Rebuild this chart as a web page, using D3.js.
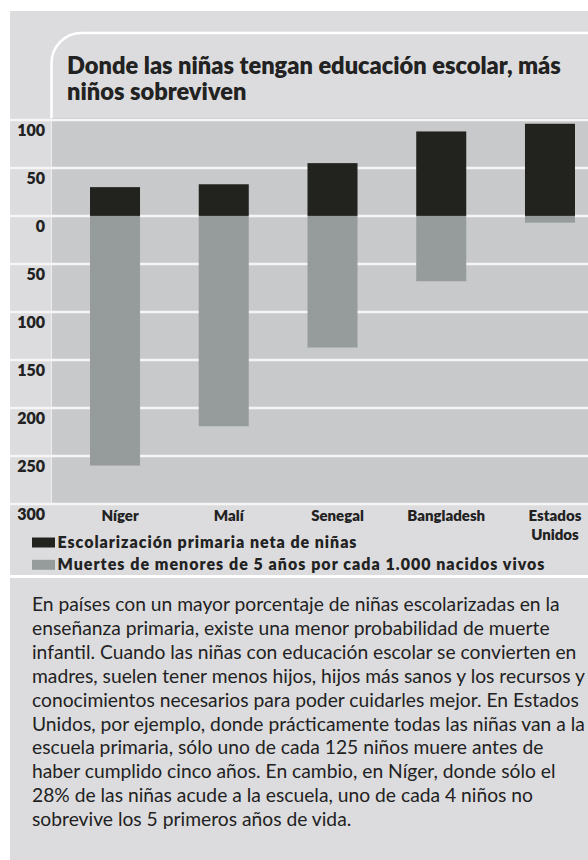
<!DOCTYPE html>
<html>
<head>
<meta charset="utf-8">
<script src="https://cdn.jsdelivr.net/npm/d3@7"></script>
<style>
  body { margin: 0; background: #fff; }
  svg { display: block; font-family: Lato, "Open Sans", sans-serif; }
</style>
</head>
<body>
<div id="chart"></div>
<script>
// Chart data
const countries = ["Níger", "Malí", "Senegal", "Bangladesh", "Estados Unidos"];
const enrolment = [30, 33, 55, 88, 96];
const deaths = [260, 219, 137, 68, 7];
const yTicks = [100, 50, 0, -50, -100, -150, -200, -250, -300];

const titleLines = ["Donde las niñas tengan educación escolar, más", "niños sobreviven"];
const legendLabels = [
  "Escolarización primaria neta de niñas",
  "Muertes de menores de 5 años por cada 1.000 nacidos vivos"
];
const paragraph = [
  "En países con un mayor porcentaje de niñas escolarizadas en la",
  "enseñanza primaria, existe una menor probabilidad de muerte",
  "infantil. Cuando las niñas con educación escolar se convierten en",
  "madres, suelen tener menos hijos, hijos más sanos y los recursos y",
  "conocimientos necesarios para poder cuidarles mejor. En Estados",
  "Unidos, por ejemplo, donde prácticamente todas las niñas van a la",
  "escuela primaria, sólo uno de cada 125 niños muere antes de",
  "haber cumplido cinco años. En cambio, en Níger, donde sólo el",
  "28% de las niñas acude a la escuela, uno de cada 4 niños no",
  "sobrevive los 5 primeros años de vida."
];

const width = 588
const height = 860
const plot = { left: 51, right: 588, top: 118, bottom: 504 }
const textColor = "#222"

const svg = d3.select("#chart")
  .append("svg")
  .attr("width", width)
  .attr("height", height);

// Light grey panel
svg.append("rect")
  .attr("x", 10)
  .attr("y", 11)
  .attr("width", width - 10)
  .attr("height", height - 11)
  .attr("fill", "#dcdcde");

// Scales
const x = d3.scaleBand()
  .domain(countries)
  .range([90, 575])
  .paddingInner(0.54)
  .paddingOuter(0);

const y = d3.scaleLinear()
  .domain([102, -300])
  .range([plot.top, plot.bottom]);

// Plot background
svg.append("rect")
  .attr("x", plot.left)
  .attr("y", plot.top)
  .attr("width", plot.right - plot.left)
  .attr("height", plot.bottom - plot.top)
  .attr("fill", "#c8c9cb");

svg.append("line")
  .attr("x1", plot.left + 0.5)
  .attr("x2", plot.left + 0.5)
  .attr("y1", plot.top)
  .attr("y2", plot.bottom)
  .attr("stroke", "#ececec")
  .attr("stroke-width", 1);

// Rounded title frame
const r = 30
const frame = d3.path();
frame.moveTo(plot.left + 0.5, plot.top);
frame.lineTo(plot.left + 0.5, 33 + r);
frame.arcTo(plot.left + 0.5, 33, plot.left + 0.5 + r, 33, r);
frame.lineTo(width, 33);
svg.append("path")
  .attr("d", frame.toString())
  .attr("fill", "none")
  .attr("stroke", "#fff")
  .attr("stroke-width", 2.5);

// Gridlines across the whole panel
svg.append("g")
  .selectAll("line")
  .data(yTicks)
  .join("line")
  .attr("x1", 10)
  .attr("x2", width)
  .attr("y1", d => y(d))
  .attr("y2", d => y(d))
  .attr("stroke", "#f5f5f5")
  .attr("stroke-width", 2.5);

// Y axis labels (absolute values, sitting under each gridline)
const yAxis = svg.append("g")
  .attr("transform", "translate(45,0)")
  .call(d3.axisLeft(y).tickValues(yTicks).tickFormat(d => Math.abs(d)).tickSize(0).tickPadding(0));
yAxis.select(".domain").remove();
yAxis.selectAll("text")
  .attr("dy", null)
  .attr("y", 15.5)
  .attr("fill", textColor)
  .style("font-family", "Lato, sans-serif")
  .style("font-size", "16px")
  .style("font-weight", "800");

// Bars: enrolment above zero, deaths below
svg.append("g")
  .selectAll("rect")
  .data(countries)
  .join("rect")
  .attr("x", d => x(d))
  .attr("y", (d, i) => y(enrolment[i]))
  .attr("width", x.bandwidth())
  .attr("height", (d, i) => y(0) - y(enrolment[i]))
  .attr("fill", "#22231f");

svg.append("g")
  .selectAll("rect")
  .data(countries)
  .join("rect")
  .attr("x", d => x(d))
  .attr("y", y(0))
  .attr("width", x.bandwidth())
  .attr("height", (d, i) => y(-deaths[i]) - y(0))
  .attr("fill", "#969c9b");

// Country labels
const labels = svg.append("g")
  .selectAll("text")
  .data(countries)
  .join("text")
  .attr("text-anchor", "middle")
  .attr("y", 521)
  .attr("fill", textColor)
  .style("font-size", "15px")
  .style("font-weight", "800");

labels.each(function (d) {
  const cx = x(d) + x.bandwidth() / 2 + 5;
  d3.select(this).selectAll("tspan")
    .data(d.split(" "))
    .join("tspan")
    .attr("x", cx)
    .attr("dy", (w, i) => i ? 18.5 : 0)
    .text(w => w);
});

// Title, scaled to the reference width
const title = svg.append("g")
  .selectAll("text")
  .data(titleLines)
  .join("text")
  .attr("x", 67)
  .attr("y", (d, i) => 73.5 + i * 26.5)
  .attr("fill", textColor)
  .style("font-size", "20px")
  .style("font-weight", "800")
  .text(d => d);
const titleSize = 20 * 494 / title.nodes()[0].getComputedTextLength();
title.style("font-size", titleSize + "px");

// Legend
const legendColors = ["#22231f", "#969c9b"];
const legendWidths = [299, 487];
const legend = svg.append("g")
  .selectAll("g")
  .data(legendLabels)
  .join("g")
  .attr("transform", (d, i) => "translate(0," + (i * 22.3) + ")");

legend.append("rect")
  .attr("x", 32)
  .attr("y", 537.5)
  .attr("width", 23)
  .attr("height", 10)
  .attr("fill", (d, i) => legendColors[i]);

legend.append("text")
  .attr("x", 57.5)
  .attr("y", 548)
  .attr("fill", textColor)
  .attr("textLength", (d, i) => legendWidths[i])
  .attr("lengthAdjust", "spacing")
  .style("font-size", "16px")
  .style("font-weight", "800")
  .text(d => d);

// White separator under the legend
svg.append("line")
  .attr("x1", 10)
  .attr("x2", width)
  .attr("y1", 576.5)
  .attr("y2", 576.5)
  .attr("stroke", "#fff")
  .attr("stroke-width", 3);

// Explanatory paragraph
const para = svg.append("g")
  .selectAll("text")
  .data(paragraph)
  .join("text")
  .attr("x", 32)
  .attr("y", (d, i) => 611 + i * 23.9)
  .attr("fill", textColor)
  .style("font-size", "17px")
  .text(d => d);
const paraSize = 17 * 553 / para.nodes()[3].getComputedTextLength();
para.style("font-size", paraSize + "px");
</script>
</body>
</html>
